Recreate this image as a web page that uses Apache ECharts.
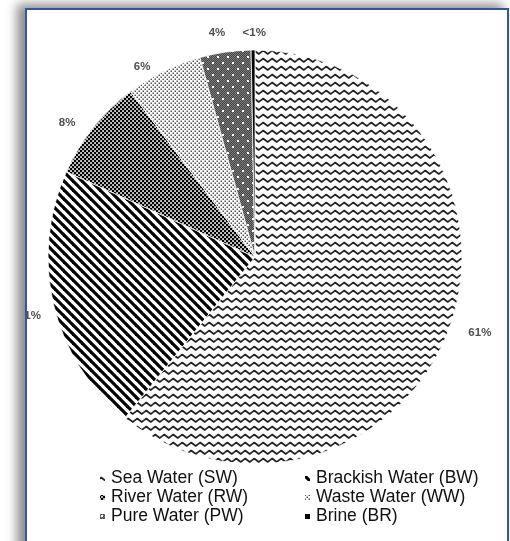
<!DOCTYPE html>
<html>
<head>
<meta charset="utf-8">
<script src="https://cdn.jsdelivr.net/npm/echarts@6/dist/echarts.min.js"></script>
<style>
  html, body { margin: 0; padding: 0; width: 510px; height: 541px; overflow: hidden; background: #fff; }
  #frame {
    position: absolute; left: 25px; top: 8px; width: 480px; height: 600px;
    border: 2px solid #35569a; border-bottom: none;
    box-shadow: -7px -3px 10px 1px rgba(0, 0, 0, 0.45);
    overflow: hidden; background: #fff;
  }
  #chart { position: absolute; left: -27px; top: -10px; width: 510px; height: 541px; }
</style>
</head>
<body>
<div id="frame"><div id="chart"></div></div>
<script>
// Water source shares (percent)
const categories = ['Sea Water (SW)', 'Brackish Water (BW)', 'River Water (RW)', 'Waste Water (WW)', 'Pure Water (PW)', 'Brine (BR)'];
const shares = [61, 21, 8, 6, 4, 0.3];
const shareLabels = ['61%', '21%', '8%', '6%', '4%', '<1%'];
const legendLeftColumn = ['Sea Water (SW)', 'River Water (RW)', 'Pure Water (PW)'];
const legendRightColumn = ['Brackish Water (BW)', 'Waste Water (WW)', 'Brine (BR)'];

// small repeating canvas tiles used as slice fills
function tile(w, h, draw) {
  const c = document.createElement('canvas');
  c.width = w; c.height = h;
  const g = c.getContext('2d');
  draw(g, w, h);
  return { image: c, repeat: 'repeat' };
}

const zigzag = tile(9, 8, (g, w, h) => {
  g.fillStyle = '#fff'; g.fillRect(0, 0, w, h);
  g.strokeStyle = '#222'; g.lineWidth = 1.7; g.lineJoin = 'round';
  g.beginPath();
  g.moveTo(-2.25, 6); g.lineTo(2.25, 2.5); g.lineTo(6.75, 6); g.lineTo(11.25, 2.5);
  g.stroke();
});
const stripes = tile(9, 9, (g, w, h) => {
  g.fillStyle = '#fff'; g.fillRect(0, 0, w, h);
  g.strokeStyle = '#000'; g.lineWidth = 3.2;
  [-9, 0, 9].forEach(k => { g.beginPath(); g.moveTo(k - 1, -1); g.lineTo(k + 10, 10); g.stroke(); });
});
const denseCheck = tile(4, 4, (g, w, h) => {
  g.fillStyle = '#000'; g.fillRect(0, 0, w, h);
  g.fillStyle = '#fff'; g.fillRect(0.2, 0.2, 1.7, 1.7); g.fillRect(2.2, 2.2, 1.7, 1.7);
});
const lightDots = tile(4, 4, (g, w, h) => {
  g.fillStyle = '#fff'; g.fillRect(0, 0, w, h);
  g.fillStyle = '#555'; g.fillRect(0.5, 0.5, 1.5, 1.5); g.fillRect(2.5, 2.5, 1.5, 1.5);
});
const grayDotted = tile(10, 12, (g, w, h) => {
  for (let y = 0; y < h; y++) for (let x = 0; x < w; x++) {
    g.fillStyle = (x + y) % 2 ? '#444' : '#7c7c7c'; g.fillRect(x, y, 1, 1);
  }
  g.fillStyle = '#fff'; g.fillRect(2, 2, 2, 2); g.fillRect(7, 8, 2, 2);
});
const fills = [zigzag, stripes, denseCheck, lightDots, grayDotted, '#000'];

// per-label nudges from the default outside position
const labelNudge = [[0, 2], [6, 8], [-2, 4], [-2, 8], [7, -5], [18, -3]];

const legendText = { fontFamily: 'Liberation Sans, Arial, sans-serif', fontSize: 17.5, color: '#111', lineHeight: 19 };
const legendBase = {
  orient: 'vertical', top: 464, itemWidth: 7, itemHeight: 7, itemGap: 0,
  icon: 'rect', textStyle: legendText, selectedMode: false
};

const chart = echarts.init(document.getElementById('chart'), null, { renderer: 'canvas' });
chart.setOption({
  animation: false,
  backgroundColor: '#fff',
  legend: [
    Object.assign({ left: 93, data: legendLeftColumn }, legendBase),
    Object.assign({ left: 298, data: legendRightColumn }, legendBase)
  ],
  series: [{
    type: 'pie',
    center: [255, 257],
    radius: 207,
    startAngle: 90,
    clockwise: true,
    avoidLabelOverlap: false,
    emphasis: { disabled: true },
    itemStyle: { borderColor: '#fff', borderWidth: 0.8 },
    label: {
      show: true, position: 'outside',
      formatter: p => shareLabels[p.dataIndex],
      color: '#505050', fontWeight: 'bold', fontSize: 11.5,
      fontFamily: 'Liberation Sans, Arial, sans-serif'
    },
    labelLine: { show: false, length: 14, length2: 0 },
    labelLayout: p => ({ dx: labelNudge[p.dataIndex][0], dy: labelNudge[p.dataIndex][1] }),
    data: categories.map((name, i) => ({ name: name, value: shares[i], itemStyle: { color: fills[i] } }))
  }]
});
</script>
</body>
</html>
